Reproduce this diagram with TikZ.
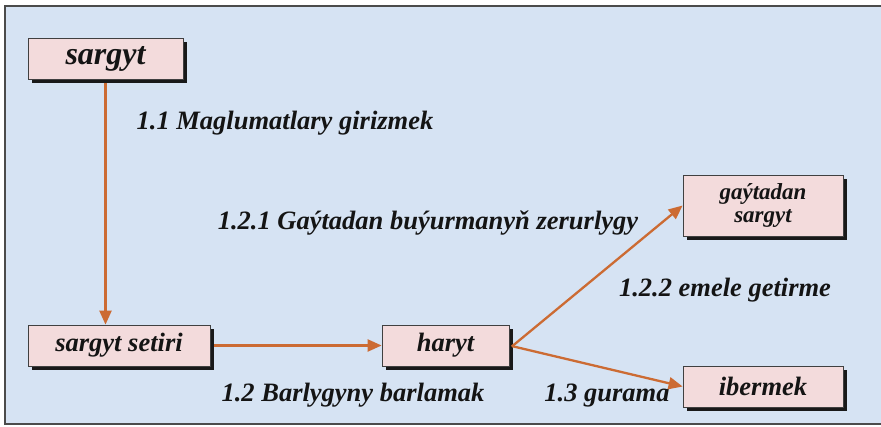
\documentclass[tikz,border=0pt]{standalone}
\usepackage{fontspec}
\setmainfont{Liberation Serif}
\usetikzlibrary{arrows.meta,shadows}
\definecolor{bgblue}{RGB}{214,227,243}
\definecolor{boxpink}{RGB}{243,219,220}
\definecolor{flowline}{RGB}{204,107,51}
\definecolor{framegray}{RGB}{75,75,75}
\begin{document}
\begin{tikzpicture}[
  x=1pt, y=-1pt,
  every node/.style={font=\fontsize{26.5}{28}\selectfont\bfseries\itshape, text=black!92},
  box/.style={
    draw=black!75,
    line width=0.8pt,
    fill=boxpink,
    align=center,
    inner sep=0pt,
    minimum height=41pt,
    drop shadow={shadow xshift=4pt, shadow yshift=-4pt, fill=black!90, opacity=1}
  },
  lbl/.style={inner sep=0pt, anchor=base},
  arrow/.style={-{Triangle[length=14pt,width=12pt]}, line width=2.3pt, draw=flowline}
]
\useasboundingbox (0,0) rectangle (881,427);
\draw[framegray, fill=bgblue, line width=2pt] (5,6) rectangle (890,424);
% boxes
\node[box, minimum width=155pt, font=\fontsize{32}{34}\selectfont\bfseries\itshape] (sargyt) at (105.5,58.5) {sargyt};
\node[box, minimum width=182pt] (setiri) at (119,345.5) {sargyt setiri};
\node[box, minimum width=127pt] (haryt) at (445.5,345.5) {haryt};
\node[box, minimum width=160pt, minimum height=61pt, font=\fontsize{23}{22.5}\selectfont\bfseries\itshape] (gaytadan) at (763,205.5) {gaýtadan\\sargyt};
\node[box, minimum width=160pt] (ibermek) at (763,386.5) {ibermek};
% labels
\node[lbl] (l11) at (285,130) {1.1 Maglumatlary girizmek};
\node[lbl] (l121) at (428,230) {1.2.1 Gaýtadan buýurmanyň zerurlygy};
\node[lbl] (l122) at (725,297) {1.2.2 emele getirme};
\node[lbl] (l12) at (353,401.5) {1.2 Barlygyny barlamak};
\node[lbl] (l13) at (607,401.5) {1.3 gurama};
% arrows
\draw[arrow, shorten <=4pt] (sargyt.south) -- (sargyt.south |- setiri.north);
\draw[arrow, shorten <=4pt] (setiri) -- (haryt);
\draw[arrow, shorten <=3pt] ([yshift=-3pt]haryt.east) -- (gaytadan.west);
\draw[arrow, shorten <=3pt] (haryt.east) -- (ibermek.west);
\end{tikzpicture}
\end{document}
